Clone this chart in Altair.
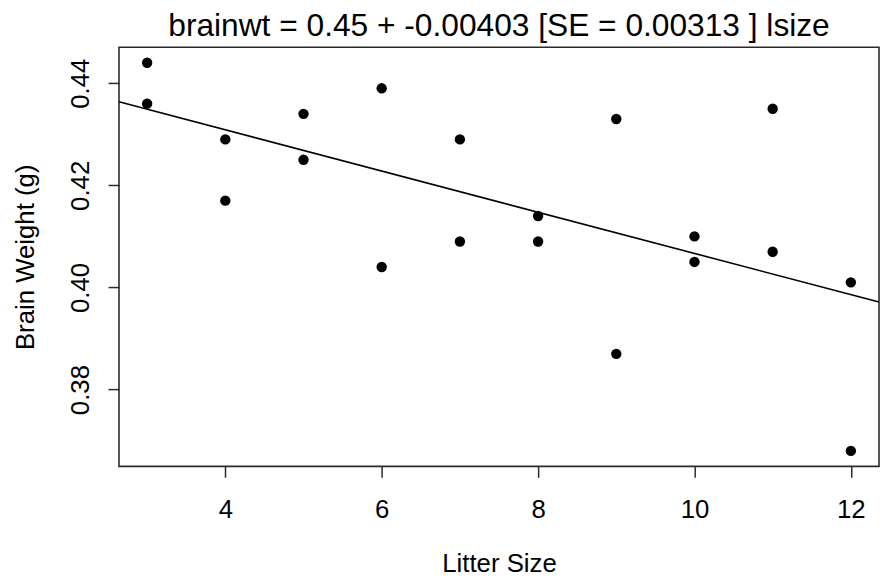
import altair as alt
import pandas as pd

lsize = [3, 3, 4, 4, 5, 5, 6, 6, 7, 7, 8, 8, 9, 9, 10, 10, 11, 11, 12, 12]
brainwt = [0.444, 0.436, 0.417, 0.429, 0.425, 0.434, 0.404, 0.439, 0.409, 0.429,
           0.414, 0.409, 0.387, 0.433, 0.410, 0.405, 0.435, 0.407, 0.368, 0.401]
x_ticks = [4, 6, 8, 10, 12]
y_ticks = [0.38, 0.40, 0.42, 0.44]
title_text = "brainwt = 0.45 + -0.00403 [SE = 0.00313 ] lsize"

df = pd.DataFrame({"lsize": lsize, "brainwt": brainwt})

FONT = "Liberation Sans"
x_dom = [2.64, 12.36]
y_dom = [0.36496, 0.44704]

x_enc = alt.X(
    "lsize:Q",
    scale=alt.Scale(domain=x_dom, nice=False, zero=False),
    axis=alt.Axis(
        values=x_ticks, title="Litter Size", format="d",
        titleX=383.5, titleY=106, titleAlign="center", titleBaseline="alphabetic",
    ),
)
y_enc = alt.Y(
    "brainwt:Q",
    scale=alt.Scale(domain=y_dom, nice=False, zero=False),
    axis=alt.Axis(
        values=y_ticks, title="Brain Weight (g)", format=".2f",
        labelAngle=270, labelAlign="center", labelBaseline="alphabetic",
        titleAngle=270, titleX=-86, titleY=211.5, titleAlign="center",
        titleBaseline="alphabetic",
    ),
)

points = alt.Chart(df).mark_circle(size=110, color="black", opacity=1).encode(x=x_enc, y=y_enc)

line = (
    alt.Chart(df)
    .transform_regression("lsize", "brainwt", extent=x_dom)
    .mark_line(color="black", strokeWidth=1.6, clip=True)
    .encode(x=x_enc, y=y_enc)
)

chart = (
    alt.layer(line, points)
    .properties(
        width=767,
        height=423,
        padding={"left": 112, "top": 37, "right": 1, "bottom": 110},
        autosize=alt.AutoSizeParams(type="none"),
        title=alt.TitleParams(
            title_text, font=FONT, fontSize=32, fontWeight="normal", color="black",
            anchor="middle", baseline="alphabetic", offset=8, dy=29,
        ),
    )
    .configure_view(stroke="#2a2a2a", strokeWidth=1.6)
    .configure_axis(
        domain=False, grid=False,
        ticks=True, tickColor="#2a2a2a", tickSize=11, tickWidth=1.5,
        labelFont=FONT, labelFontSize=26, labelColor="black", labelPadding=20,
        titleFont=FONT, titleFontSize=26, titleFontWeight="normal", titleColor="black",
    )
)

chart.save("out.html", embed_options={"renderer": "svg", "actions": False})
